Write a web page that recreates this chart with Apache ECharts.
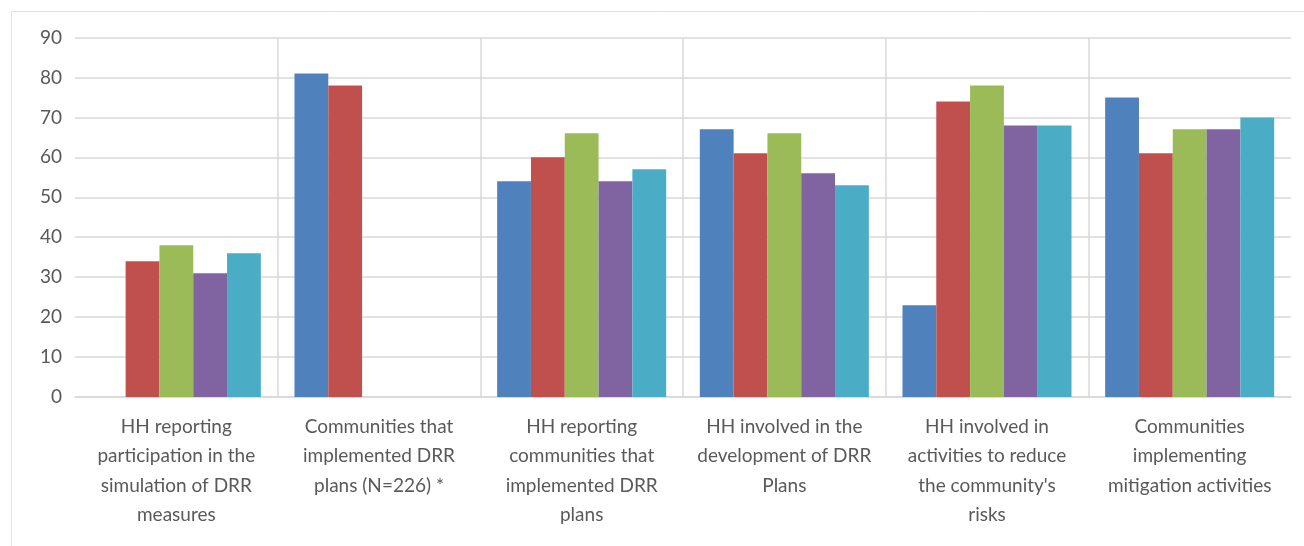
<!DOCTYPE html>
<html>
<head>
<meta charset="utf-8">
<title>DRR indicators</title>
<script src="https://cdn.jsdelivr.net/npm/echarts@6/dist/echarts.min.js"></script>
<style>
  html, body { margin: 0; padding: 0; background: #ffffff; }
  #chart { width: 1304px; height: 546px; }
</style>
</head>
<body>
<div id="chart"></div>
<script>
// Indicator labels (wrapped as they appear under each group)
const categories = [
  'HH reporting\nparticipation in the\nsimulation of DRR\nmeasures',
  'Communities that\nimplemented DRR\nplans (N=226) *',
  'HH reporting\ncommunities that\nimplemented DRR\nplans',
  'HH involved in the\ndevelopment of DRR\nPlans',
  'HH involved in\nactivities to reduce\nthe community\'s\nrisks',
  'Communities\nimplementing\nmitigation activities'
];

// Five series, one value per indicator (null = no bar)
const seriesA = [null, 81, 54, 67, 23, 75];
const seriesB = [34, 78, 60, 61, 74, 61];
const seriesC = [38, null, 66, 66, 78, 67];
const seriesD = [31, null, 54, 56, 68, 67];
const seriesE = [36, null, 57, 53, 68, 70];

const yTicks = { min: 0, max: 90, interval: 10 };

const colors = ['#4F81BD', '#C0504D', '#9BBB59', '#8064A2', '#4BACC6'];
const allSeries = [seriesA, seriesB, seriesC, seriesD, seriesE];

const chart = echarts.init(document.getElementById('chart'), null, { renderer: 'canvas' });

const textColor = '#595959';
const gridColor = '#d9d9d9';
const fontFamily = 'Lato, "Open Sans", sans-serif';

chart.setOption({
  animation: false,
  backgroundColor: '#ffffff',
  textStyle: { fontFamily: fontFamily },
  graphic: [
    { type: 'line', shape: { x1: 11, y1: 11.5, x2: 1304, y2: 11.5 }, style: { stroke: '#e3e3e3', lineWidth: 1 } },
    { type: 'line', shape: { x1: 11.5, y1: 11, x2: 11.5, y2: 546 }, style: { stroke: '#e3e3e3', lineWidth: 1 } }
  ],
  grid: { left: 75, right: 13, top: 37.5, bottom: 149, containLabel: false },
  xAxis: {
    type: 'category',
    data: categories,
    boundaryGap: true,
    axisLine: { show: true, lineStyle: { color: gridColor, width: 1.5 } },
    axisTick: { show: false },
    axisLabel: {
      interval: 0,
      color: textColor,
      fontFamily: fontFamily,
      fontSize: 19,
      lineHeight: 29.5,
      margin: 15,
      align: 'center'
    },
    splitLine: {
      show: true,
      showMinLine: false,
      showMaxLine: false,
      lineStyle: { color: gridColor, width: 1.5 }
    }
  },
  yAxis: {
    type: 'value',
    min: yTicks.min,
    max: yTicks.max,
    interval: yTicks.interval,
    axisLine: { show: false },
    axisTick: { show: false },
    axisLabel: {
      color: textColor,
      fontFamily: fontFamily,
      fontSize: 19,
      margin: 13
    },
    splitLine: { show: true, lineStyle: { color: gridColor, width: 1.5 } }
  },
  series: allSeries.map((vals, i) => ({
    type: 'bar',
    data: vals,
    barGap: '0%',
    barCategoryGap: '16.6%',
    itemStyle: { color: colors[i] }
  }))
});
</script>
</body>
</html>
